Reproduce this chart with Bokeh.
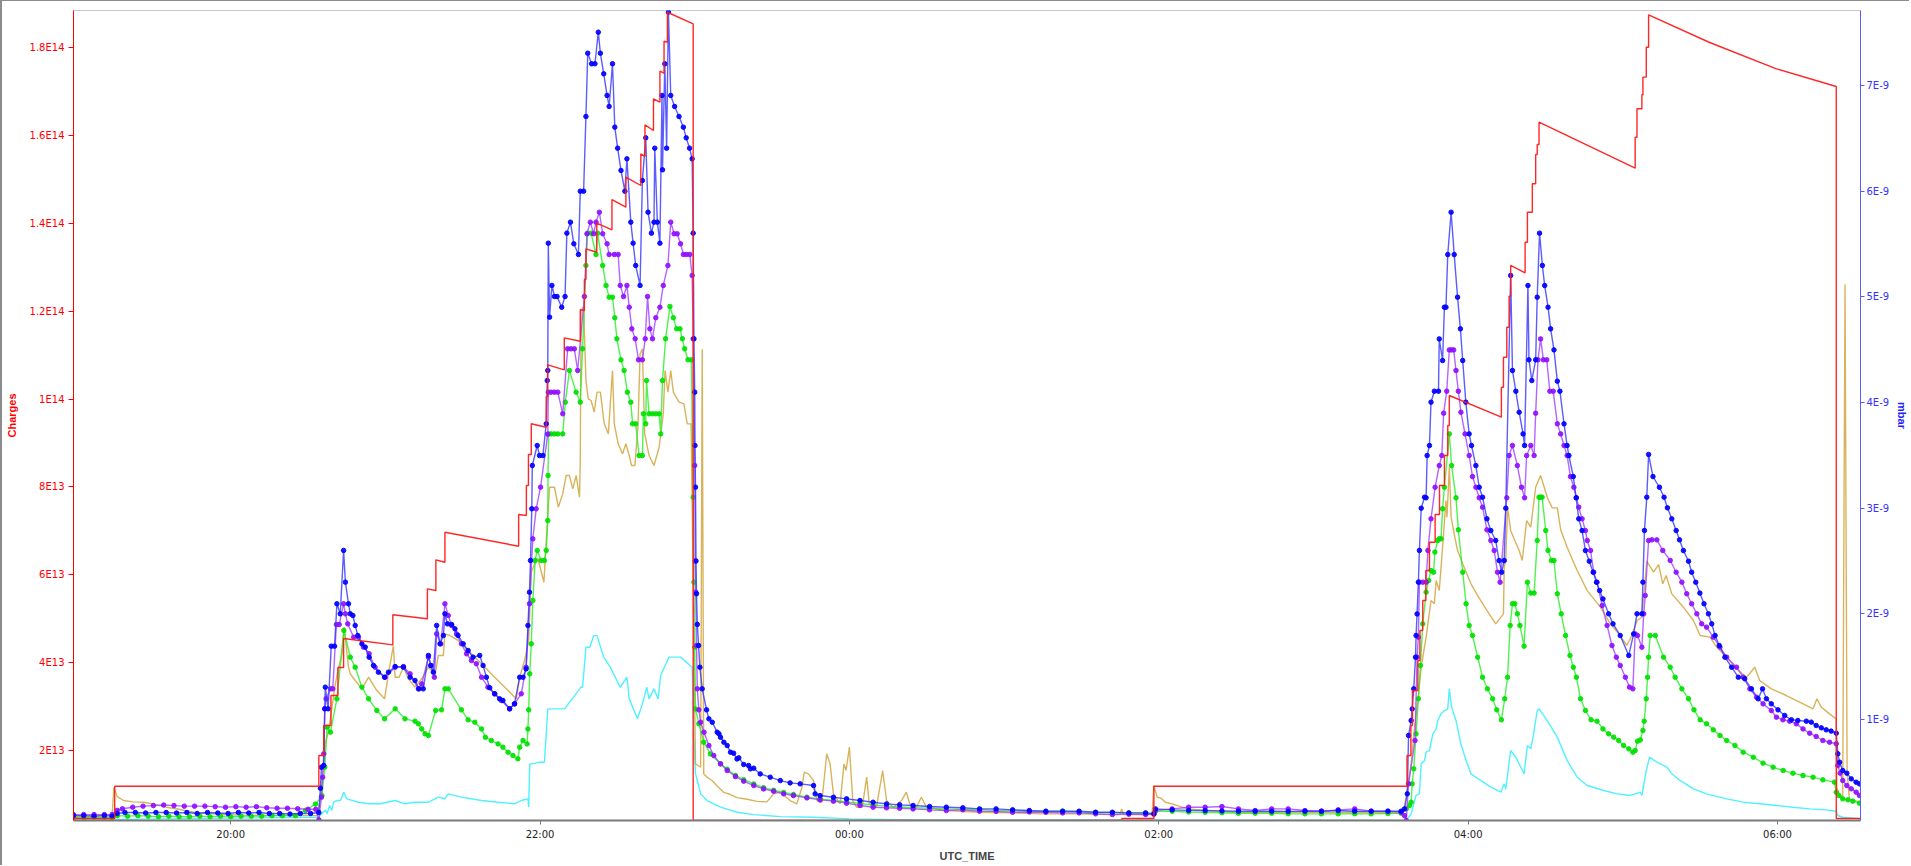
import numpy as np
from bokeh.plotting import figure
from bokeh.models import Range1d, LinearAxis, FixedTicker, CustomJSTickFormatter
from bokeh.embed import file_html
from bokeh.resources import INLINE

# x = minutes relative to 20:00 UTC
TIME_TICKS = [0, 120, 240, 360, 480, 600]
TIME_LABELS = ["20:00", "22:00", "00:00", "02:00", "04:00", "06:00"]
CHARGE_TICKS_E13 = [2, 4, 6, 8, 10, 12, 14, 16, 18]
MBAR_TICKS_E9 = [1, 2, 3, 4, 5, 6, 7]

# Charges (units of 1E13), left axis
charges_pts = [
    (-61.0, 0.455), (-45.0, 0.455), (-45.0, 1.19), (34.2, 1.19), (34.2, 1.889), (36.1, 1.889),
    (36.1, 2.571), (38.9, 2.571), (38.9, 3.254), (41.6, 3.254), (41.6, 3.891), (43.8, 3.891),
    (43.8, 4.551), (62.9, 4.407), (62.9, 5.09), (76.3, 4.999), (76.3, 5.681), (79.6, 5.643),
    (79.6, 6.341), (83.1, 6.287), (83.1, 6.969), (111.7, 6.651), (111.7, 7.372), (114.7, 7.349),
    (114.7, 8.032), (115.5, 8.032), (115.5, 8.737), (116.6, 8.737), (116.6, 9.436), (122.4, 9.358),
    (122.4, 10.057), (123.0, 10.057), (123.0, 10.778), (129.4, 10.664), (129.4, 11.392), (135.6, 11.315),
    (135.6, 12.03), (137.2, 12.014), (137.2, 12.719), (137.8, 12.719), (137.8, 13.418), (142.0, 13.34),
    (142.0, 14.0), (147.9, 13.85), (147.9, 14.539), (153.3, 14.364), (153.3, 15.047), (159.1, 14.858),
    (159.1, 15.579), (160.7, 15.518), (160.7, 16.239), (164.0, 16.109), (164.0, 16.83), (166.5, 16.753),
    (166.5, 17.459), (168.1, 17.413), (168.1, 18.141), (169.4, 18.118), (169.4, 18.8), (179.4, 18.537),
    (179.4, 0.41), (345.7, 0.41), (345.7, 0.455), (358.1, 0.455), (358.1, 1.19), (456.3, 1.19),
    (456.3, 1.889), (457.8, 1.889), (457.8, 2.571), (458.4, 2.571), (458.4, 3.367), (460.5, 3.367),
    (460.5, 4.05), (461.3, 4.05), (461.3, 4.733), (462.4, 4.733), (462.4, 5.415), (463.6, 5.415),
    (463.6, 6.098), (465.0, 6.098), (465.0, 6.742), (467.2, 6.742), (467.2, 7.372), (468.9, 7.372),
    (468.9, 8.032), (470.8, 8.032), (470.8, 8.715), (472.1, 8.715), (472.1, 9.397), (472.7, 9.397),
    (472.7, 10.08), (492.9, 9.586), (492.9, 10.269), (493.7, 10.269), (493.7, 10.951), (495.0, 10.951),
    (495.0, 11.634), (495.9, 11.634), (495.9, 12.339), (496.5, 12.339), (496.5, 13.038), (502.1, 12.872),
    (502.1, 13.567), (503.0, 13.567), (503.0, 14.25), (504.9, 14.25), (504.9, 14.897), (506.2, 14.897),
    (506.2, 15.563), (506.8, 15.563), (506.8, 15.791), (507.5, 15.791), (507.5, 16.298), (544.8, 15.252),
    (544.8, 15.957), (545.5, 15.957), (545.5, 16.603), (547.4, 16.603), (547.4, 16.922), (547.8, 16.922),
    (547.8, 17.323), (549.1, 17.323), (549.1, 18.005), (550.0, 18.005), (550.0, 18.742), (573.7, 18.112),
    (599.6, 17.513), (622.8, 17.11), (622.8, 0.455), (632.2, 0.455),
]

# Pressures (units of 1E-9 mbar), right axis
blue_pts = [
    (-61, 0.09), (-57, 0.09), (-53, 0.085), (-49, 0.09), (-46, 0.085), (-44, 0.11), (-41, 0.12),
    (-37, 0.12), (-33, 0.115), (-29, 0.12), (-25, 0.12), (-21, 0.115), (-17, 0.12), (-13, 0.11),
    (-9, 0.12), (-5, 0.115), (-1, 0.11), (3, 0.12), (7, 0.115), (11, 0.12), (15, 0.11), (19, 0.11),
    (23, 0.105), (27, 0.11), (31, 0.11), (34.2, 0.12), (34.8, 0.35), (35.2, 0.549), (36.1, 0.565),
    (36.5, 1.101), (36.7, 1.306), (37.8, 1.101), (39.0, 1.694), (40.3, 1.694), (41.2, 2.095), (42.5, 2.0),
    (43.8, 2.6), (44.5, 2.30), (45.7, 2.095), (46.4, 2.0), (47.4, 1.984), (48.3, 1.89), (49.3, 1.795),
    (50.9, 1.716), (52.2, 1.685), (53.7, 1.59), (55.4, 1.511), (57.3, 1.448), (59.7, 1.40), (61.2, 1.448),
    (63.8, 1.501), (67.0, 1.495), (69.6, 1.40), (71.5, 1.369), (73.0, 1.29), (74.7, 1.29), (76.7, 1.606),
    (77.6, 1.511), (78.6, 1.448), (79.9, 1.89), (81.2, 1.716), (82.5, 1.795), (83.1, 2.0), (84.1, 1.905),
    (85.7, 1.899), (87.0, 1.858), (88.2, 1.795), (90.2, 1.716), (92.1, 1.653), (94.0, 1.59), (96.6, 1.606),
    (97.9, 1.511), (99.2, 1.40), (100.5, 1.30), (102.4, 1.243), (104.3, 1.196), (105.6, 1.18), (108.2, 1.101),
    (110.1, 1.148), (112.1, 1.40), (113.4, 1.40), (114.6, 1.479), (115.3, 1.89), (115.9, 2.205), (116.3, 2.505),
    (116.8, 2.994), (117.0, 3.404), (118.9, 3.593), (119.8, 3.498), (121.1, 3.498), (122.4, 3.798),
    (122.8, 4.208), (123.0, 4.303), (123.2, 5.508), (123.7, 4.808), (124.6, 5.108), (125.6, 5.003),
    (126.6, 5.003), (128.4, 4.902), (129.7, 5.003), (130.4, 5.603), (131.8, 5.707), (133.1, 5.502),
    (134.9, 5.401), (135.6, 6.0), (136.9, 6.0), (137.8, 6.707), (138.5, 7.306), (140.0, 7.206),
    (141.3, 7.206), (142.6, 7.505), (143.4, 7.306), (144.7, 7.111), (146.0, 6.906), (146.8, 6.802),
    (148.1, 7.206), (149.0, 6.606), (150.1, 6.407), (151.4, 6.196), (152.9, 6.0), (153.7, 6.306),
    (155.2, 5.707), (156.1, 5.508), (157.1, 5.297), (158.8, 5.108), (159.7, 6.101), (161.0, 6.505),
    (161.9, 5.801), (163.2, 5.603), (164.2, 5.707), (164.5, 6.407), (165.5, 5.707), (166.5, 5.508),
    (167.3, 6.906), (167.5, 6.202), (168.4, 7.206), (169.1, 6.407), (169.8, 7.695), (170.7, 6.906),
    (172.2, 6.802), (173.9, 6.707), (175.6, 6.606), (176.7, 6.505), (178.0, 6.407), (179.0, 6.306),
    (179.4, 5.603), (179.7, 4.603), (180.0, 4.098), (180.1, 3.593), (180.3, 3.199), (180.5, 2.50),
    (180.7, 2.19), (181.0, 1.90), (181.5, 1.70), (182.0, 1.495), (182.9, 1.29), (184.6, 1.091),
    (185.5, 1.006), (186.8, 0.974), (188.7, 0.88), (189.4, 0.864), (190.0, 0.832), (191.3, 0.785),
    (192.6, 0.753), (193.9, 0.690), (195.1, 0.681), (196.4, 0.627), (197.1, 0.637), (199.0, 0.574),
    (200.9, 0.564), (201.6, 0.533), (202.9, 0.539), (205.4, 0.485), (209.3, 0.454), (213.2, 0.422),
    (217.0, 0.400), (220.9, 0.391), (226.1, 0.375), (226.7, 0.296), (228.6, 0.28), (233.8, 0.264),
    (238.9, 0.249), (244.1, 0.233), (249.2, 0.217), (254.4, 0.201), (259.5, 0.192), (264.7, 0.186),
    (271.1, 0.176), (277.6, 0.17), (284.0, 0.164), (290.5, 0.154), (296.9, 0.154), (303.3, 0.145),
    (309.8, 0.138), (316.2, 0.132), (322.7, 0.132), (329.1, 0.132), (335.5, 0.122), (342.0, 0.122),
    (348.4, 0.116), (354.9, 0.116), (358.1, 0.107), (358.7, 0.154), (365.2, 0.145), (371.6, 0.14),
    (378.0, 0.138), (384.5, 0.135), (390.9, 0.132), (397.4, 0.132), (403.8, 0.132), (410.2, 0.13),
    (416.7, 0.132), (423.1, 0.132), (429.6, 0.138), (436.0, 0.132), (442.4, 0.132), (448.9, 0.132),
    (454.0, 0.132), (455.3, 0.154), (456.4, 0.296), (456.9, 0.849), (457.9, 0.99), (458.3, 1.10),
    (458.9, 1.29), (459.6, 1.59), (459.8, 1.795), (460.2, 1.999), (460.7, 2.30), (461.1, 2.6),
    (461.8, 3.0), (463.1, 3.104), (463.7, 3.098), (464.1, 3.498), (465.0, 3.593), (465.6, 4.003),
    (466.9, 4.107), (468.5, 4.107), (468.8, 4.602), (470.1, 4.397), (470.8, 4.902), (471.4, 4.902),
    (472.1, 5.4), (473.4, 5.801), (474.6, 5.4), (475.9, 4.997), (477.0, 4.697), (477.9, 4.397),
    (479.1, 4.003), (480.4, 3.703), (481.3, 3.593), (483.0, 3.403), (484.3, 3.198), (485.6, 3.104),
    (487.3, 2.899), (488.8, 2.788), (490.7, 2.694), (492.0, 2.504), (493.0, 2.394), (494.0, 2.504),
    (494.6, 3.0), (496.5, 5.202), (497.2, 4.303), (498.5, 4.107), (499.8, 3.908), (501.3, 3.703),
    (501.9, 3.593), (503.2, 5.107), (503.6, 4.404), (504.7, 4.208), (506.2, 4.404), (506.8, 4.997),
    (507.7, 5.603), (508.8, 5.297), (509.7, 5.107), (511.0, 4.902), (512.0, 4.697), (513.3, 4.498),
    (514.6, 4.202), (515.6, 4.107), (517.2, 3.798), (518.4, 3.593), (519.1, 3.498), (520.8, 3.299),
    (521.9, 3.098), (522.9, 2.899), (524.2, 2.788), (525.5, 2.599), (527.0, 2.498), (528.5, 2.394),
    (529.8, 2.299), (531.0, 2.22), (532.3, 2.141), (534.5, 2.0), (536.2, 1.905), (539.0, 1.795),
    (542.3, 1.606), (544.2, 1.81), (545.5, 2.0), (547.4, 2.0), (547.8, 2.30), (548.4, 2.789),
    (549.3, 3.104), (550.0, 3.508), (551.7, 3.299), (554.2, 3.198), (556.0, 3.104), (557.3, 3.003),
    (559.0, 2.899), (560.7, 2.788), (562.0, 2.7), (563.5, 2.599), (565.5, 2.498), (566.7, 2.394),
    (568.3, 2.299), (569.9, 2.196), (571.5, 2.095), (573.2, 2.0), (574.5, 1.905), (575.8, 1.795),
    (577.4, 1.70), (579.6, 1.59), (582.2, 1.495), (584.8, 1.40), (587.3, 1.385), (589.9, 1.29),
    (592.5, 1.196), (594.2, 1.29), (595.7, 1.196), (597.6, 1.148), (600.2, 1.091), (602.8, 1.038),
    (605.4, 0.997), (607.9, 0.99), (611.2, 0.984), (613.1, 0.975), (615.0, 0.943), (617.0, 0.921),
    (618.9, 0.902), (620.8, 0.89), (622.8, 0.87), (623.4, 0.675), (624.1, 0.596), (625.3, 0.517),
    (626.9, 0.492), (628.6, 0.438), (630.5, 0.407), (631.8, 0.391),
]

purple_pts = [
    (-61, 0.10), (-57, 0.10), (-53, 0.10), (-49, 0.10), (-46, 0.10), (-44, 0.14), (-42, 0.155),
    (-38, 0.17), (-34, 0.18), (-30, 0.185), (-26, 0.19), (-22, 0.185), (-18, 0.18), (-14, 0.18),
    (-10, 0.18), (-6, 0.175), (-2, 0.17), (2, 0.175), (6, 0.17), (10, 0.175), (14, 0.165), (18, 0.16),
    (22, 0.16), (26, 0.155), (30, 0.15), (33, 0.15), (34.2, 0.05), (35.2, 0.265), (35.7, 0.454),
    (36.1, 0.675), (36.5, 1.101), (37.0, 1.196), (38.7, 1.29), (39.6, 1.29), (41.0, 1.899), (42.1, 1.899),
    (43.8, 2.095), (44.5, 2.0), (45.4, 1.905), (47.7, 1.779), (49.6, 1.779), (51.5, 1.685), (53.7, 1.622),
    (56.0, 1.495), (59.9, 1.40), (63.8, 1.495), (67.0, 1.501), (69.6, 1.432), (72.8, 1.29), (74.1, 1.337),
    (76.7, 1.59), (77.7, 1.511), (79.0, 1.40), (79.9, 1.81), (81.5, 1.716), (83.1, 2.095), (84.4, 1.984),
    (85.7, 1.89), (87.6, 1.81), (89.5, 1.716), (91.5, 1.622), (93.4, 1.558), (95.3, 1.527), (97.3, 1.40),
    (99.8, 1.306), (102.4, 1.243), (105.0, 1.18), (108.2, 1.101), (110.1, 1.148), (112.7, 1.243),
    (114.6, 1.495), (115.9, 2.095), (117.2, 2.71), (118.5, 2.994), (120.2, 3.199), (123.0, 3.70),
    (123.2, 4.098), (124.3, 4.098), (125.6, 4.098), (126.9, 4.098), (128.8, 3.893), (130.7, 4.508),
    (132.0, 4.508), (133.3, 4.508), (134.6, 4.303), (137.2, 5.003), (138.2, 5.597), (139.5, 5.707),
    (140.8, 5.597), (141.7, 5.707), (143.0, 5.801), (144.3, 5.597), (146.0, 5.502), (146.8, 5.401),
    (148.8, 5.401), (150.3, 5.401), (151.1, 5.108), (152.4, 5.003), (153.7, 5.108), (154.6, 4.902),
    (155.6, 4.697), (156.9, 4.603), (158.2, 4.404), (159.7, 4.404), (160.8, 4.603), (161.7, 5.003),
    (162.6, 4.697), (163.6, 4.603), (164.9, 4.802), (166.5, 4.902), (167.8, 5.108), (169.6, 5.297),
    (170.7, 5.707), (172.0, 5.597), (173.2, 5.597), (174.5, 5.502), (175.6, 5.401), (176.8, 5.401),
    (178.1, 5.401), (179.0, 5.202), (179.4, 4.603), (180.0, 3.404), (180.2, 2.50), (180.4, 2.205),
    (180.7, 1.70), (181.0, 1.29), (181.6, 1.091), (182.3, 0.974), (183.6, 0.88), (185.5, 0.753),
    (187.4, 0.659), (190.0, 0.58), (192.6, 0.517), (195.8, 0.46), (199.0, 0.416), (202.9, 0.375),
    (206.7, 0.343), (210.6, 0.321), (214.5, 0.296), (218.3, 0.28), (223.5, 0.258), (228.6, 0.239),
    (233.8, 0.227), (238.9, 0.208), (244.1, 0.186), (249.2, 0.17), (254.4, 0.164), (259.5, 0.16),
    (264.7, 0.154), (271.1, 0.145), (277.6, 0.138), (284.0, 0.145), (290.5, 0.132), (296.9, 0.13),
    (303.3, 0.122), (309.8, 0.125), (316.2, 0.122), (322.7, 0.116), (329.1, 0.116), (335.5, 0.107),
    (342.0, 0.10), (348.4, 0.104), (354.9, 0.10), (358.1, 0.104), (358.7, 0.138), (365.2, 0.154),
    (371.6, 0.17), (378.0, 0.17), (384.5, 0.176), (390.9, 0.154), (397.4, 0.138), (403.8, 0.154),
    (410.2, 0.154), (416.7, 0.138), (423.1, 0.132), (429.6, 0.145), (436.0, 0.154), (442.4, 0.132),
    (448.9, 0.132), (454.0, 0.122), (455.3, 0.091), (456.0, 0.044), (456.9, 0.391), (459.4, 0.801),
    (460.2, 1.59), (460.7, 1.779), (461.1, 2.30), (462.4, 2.30), (463.7, 2.30), (464.4, 2.6),
    (465.6, 2.899), (467.2, 3.198), (468.8, 3.403), (469.8, 3.498), (470.5, 3.899), (471.7, 4.107),
    (472.7, 4.498), (473.5, 4.498), (474.4, 4.498), (475.3, 4.303), (476.2, 4.107), (477.2, 3.908),
    (478.8, 3.703), (480.4, 3.498), (481.7, 3.299), (483.0, 3.198), (484.3, 3.098), (485.6, 3.009),
    (487.3, 2.795), (488.8, 2.694), (490.1, 2.599), (491.4, 2.394), (492.4, 2.299), (495.0, 3.098),
    (495.9, 3.498), (497.2, 3.593), (499.1, 3.403), (500.7, 3.198), (501.9, 3.098), (502.7, 3.498),
    (504.3, 3.593), (505.6, 3.498), (506.2, 3.899), (507.1, 4.404), (508.1, 4.602), (509.2, 4.404),
    (510.5, 4.404), (511.7, 4.107), (513.0, 4.107), (514.6, 3.798), (515.9, 3.703), (517.2, 3.593),
    (518.4, 3.498), (519.7, 3.299), (521.0, 3.198), (522.0, 3.098), (522.9, 3.009), (524.2, 2.899),
    (525.5, 2.788), (526.2, 2.694), (527.5, 2.599), (528.7, 2.394), (530.0, 2.299), (532.0, 2.079),
    (533.9, 1.89), (535.8, 1.70), (537.5, 1.59), (539.0, 1.511), (541.0, 1.40), (542.6, 1.306),
    (543.9, 1.29), (544.8, 1.81), (545.7, 1.795), (547.4, 1.684), (548.1, 2.0), (548.7, 2.173),
    (550.0, 2.694), (551.3, 2.70), (553.2, 2.70), (555.5, 2.6), (558.4, 2.505), (560.7, 2.394),
    (562.9, 2.30), (564.8, 2.19), (566.7, 2.095), (568.7, 2.0), (570.6, 1.905), (572.5, 1.874),
    (575.1, 1.779), (577.7, 1.685), (580.3, 1.59), (584.1, 1.495), (586.7, 1.40), (589.3, 1.29),
    (591.9, 1.211), (594.4, 1.148), (597.6, 1.085), (599.6, 1.022), (602.1, 0.997), (604.7, 0.984),
    (607.3, 0.959), (609.9, 0.911), (612.5, 0.87), (615.0, 0.839), (617.6, 0.801), (620.2, 0.785),
    (622.8, 0.77), (623.4, 0.565), (624.3, 0.492), (625.3, 0.422), (626.9, 0.375), (628.6, 0.344),
    (630.5, 0.312), (631.8, 0.281),
]

green_pts = [
    (-61, 0.07), (-57, 0.07), (-53, 0.075), (-49, 0.07), (-46, 0.07), (-44, 0.09), (-40, 0.085),
    (-36, 0.09), (-32, 0.085), (-28, 0.08), (-24, 0.085), (-20, 0.08), (-16, 0.08), (-12, 0.085),
    (-8, 0.08), (-4, 0.085), (0, 0.08), (4, 0.085), (8, 0.085), (12, 0.085), (16, 0.09), (20, 0.09),
    (25.1, 0.09), (29, 0.14), (32.9, 0.199), (35.4, 0.28), (36.5, 0.549), (37.4, 0.927), (38.7, 0.88),
    (41.2, 1.196), (43.9, 1.842), (46.4, 1.59), (48.3, 1.495), (50.9, 1.306), (53.5, 1.196), (56.7, 1.085),
    (59.7, 1.006), (63.8, 1.101), (67.6, 1.006), (71.5, 0.984), (72.8, 0.959), (74.1, 0.911), (75.4, 0.864),
    (76.7, 0.848), (79.5, 1.085), (81.8, 1.091), (83.1, 1.29), (84.4, 1.29), (89.5, 1.091), (92.1, 0.997),
    (94.7, 0.974), (97.3, 0.911), (98.8, 0.832), (101.1, 0.801), (103.7, 0.769), (105.6, 0.738),
    (107.6, 0.69), (109.5, 0.659), (111.4, 0.628), (112.1, 0.738), (113.4, 0.801), (115.0, 0.769),
    (115.3, 0.911), (115.6, 1.091), (116.0, 1.432), (116.6, 1.716), (117.2, 2.126), (118.1, 2.505),
    (118.9, 2.6), (120.4, 2.505), (121.7, 2.505), (122.4, 2.6), (123.0, 2.883), (123.1, 3.309),
    (123.3, 3.703), (124.3, 3.703), (125.6, 3.703), (126.9, 3.703), (128.8, 3.703), (129.8, 4.003),
    (131.4, 4.303), (134.0, 4.098), (135.6, 4.003), (136.5, 4.508), (137.8, 5.297), (138.5, 5.603),
    (139.8, 5.603), (141.7, 5.401), (142.3, 5.603), (144.3, 5.297), (145.6, 5.108), (146.8, 4.997),
    (148.1, 4.997), (149.0, 4.802), (149.8, 4.603), (151.4, 4.404), (152.6, 4.303), (153.9, 4.098),
    (155.2, 4.003), (155.9, 3.798), (157.1, 3.798), (158.4, 3.498), (159.7, 3.498), (160.1, 3.893),
    (161.0, 3.798), (161.3, 4.208), (162.3, 3.893), (163.6, 3.893), (164.9, 3.893), (166.2, 3.893),
    (166.8, 3.703), (167.5, 4.208), (168.7, 4.603), (170.4, 4.909), (171.7, 4.802), (173.0, 4.697),
    (174.3, 4.697), (175.2, 4.603), (176.1, 4.508), (177.4, 4.404), (178.7, 4.404), (179.4, 3.104),
    (179.7, 2.3), (180.0, 1.684), (180.3, 1.10), (181.6, 0.96), (183.5, 0.785), (186.1, 0.674),
    (190.0, 0.58), (192.6, 0.53), (195.8, 0.47), (199.0, 0.43), (202.9, 0.39), (206.7, 0.355),
    (210.6, 0.33), (214.5, 0.31), (218.3, 0.29), (223.5, 0.265), (228.6, 0.248), (233.8, 0.233),
    (238.9, 0.22), (244.1, 0.205), (249.2, 0.19), (254.4, 0.18), (259.5, 0.172), (264.7, 0.165),
    (271.1, 0.16), (277.6, 0.154), (284.0, 0.15), (290.5, 0.148), (296.9, 0.14), (303.3, 0.138),
    (309.8, 0.132), (316.2, 0.13), (322.7, 0.132), (329.1, 0.125), (335.5, 0.12), (342.0, 0.118),
    (348.4, 0.116), (354.9, 0.113), (358.1, 0.11), (358.7, 0.132), (365.2, 0.132), (371.6, 0.125),
    (378.0, 0.122), (384.5, 0.118), (390.9, 0.113), (397.4, 0.113), (403.8, 0.113), (410.2, 0.108),
    (416.7, 0.107), (423.1, 0.107), (429.6, 0.107), (436.0, 0.108), (442.4, 0.107), (448.9, 0.11),
    (454.0, 0.113), (456.0, 0.154), (457.3, 0.186), (457.9, 0.217), (458.3, 0.391), (458.9, 0.533),
    (459.8, 0.864), (460.7, 1.196), (461.5, 1.511), (462.4, 1.905), (463.7, 2.205), (464.7, 2.315),
    (465.6, 2.41), (466.6, 2.394), (467.1, 2.584), (468.2, 2.694), (468.8, 2.71), (469.5, 2.71),
    (470.1, 2.994), (470.8, 3.198), (472.7, 3.703), (473.6, 3.403), (475.3, 3.098), (476.2, 2.795),
    (477.9, 2.394), (479.2, 2.095), (480.4, 1.89), (481.7, 1.795), (483.7, 1.59), (485.6, 1.40),
    (487.5, 1.29), (489.5, 1.196), (491.1, 1.091), (492.9, 0.997), (494.2, 1.196), (495.3, 1.40),
    (496.3, 1.89), (497.2, 2.095), (498.1, 2.095), (499.1, 2.0), (500.1, 1.89), (501.7, 1.694),
    (503.0, 2.30), (504.3, 2.196), (505.6, 2.196), (506.8, 2.694), (507.5, 3.104), (508.1, 3.104),
    (508.7, 3.104), (510.1, 2.789), (511.0, 2.6), (512.3, 2.505), (513.3, 2.505), (514.6, 2.19),
    (516.1, 2.0), (517.8, 1.795), (519.5, 1.606), (520.8, 1.495), (522.0, 1.40), (523.6, 1.196),
    (525.5, 1.085), (527.7, 0.997), (530.0, 0.984), (532.3, 0.911), (534.5, 0.864), (536.5, 0.833),
    (538.4, 0.801), (540.3, 0.754), (542.3, 0.722), (543.9, 0.691), (544.8, 0.706), (545.7, 0.795),
    (546.8, 0.807), (547.8, 0.896), (548.3, 0.984), (549.1, 1.196), (549.6, 1.40), (550.0, 1.59),
    (550.6, 1.795), (552.6, 1.795), (555.8, 1.59), (558.4, 1.495), (560.3, 1.40), (562.9, 1.29),
    (565.5, 1.196), (567.6, 1.091), (570.0, 0.997), (572.5, 0.959), (575.1, 0.902), (577.7, 0.848),
    (580.3, 0.801), (583.5, 0.754), (586.7, 0.691), (590.6, 0.643), (594.4, 0.587), (598.3, 0.549),
    (602.2, 0.517), (606.0, 0.492), (609.9, 0.47), (613.8, 0.454), (617.6, 0.429), (622.1, 0.407),
    (622.8, 0.312), (623.8, 0.281), (625.3, 0.249), (627.3, 0.24), (629.2, 0.227), (631.8, 0.208),
]

gold_pts = [
    (-61, 0.08), (-55, 0.085), (-50, 0.09), (-46, 0.09), (-45.3, 0.359), (-44, 0.27), (-41.6, 0.233),
    (-38, 0.22), (-33.9, 0.217), (-30, 0.2), (-25, 0.17), (-20, 0.15), (-14.4, 0.122), (-8, 0.11),
    (-2, 0.10), (5, 0.095), (12, 0.092), (20, 0.091), (27, 0.09), (33.5, 0.09), (34.8, 0.249),
    (36.7, 0.77), (38.0, 0.896), (39.3, 1.117), (40.6, 1.337), (41.9, 1.495), (43.2, 1.622), (44.0, 1.874),
    (45.7, 1.495), (46.4, 1.432), (48.3, 1.369), (50.9, 1.29), (53.5, 1.40), (56.7, 1.274), (59.7, 1.196),
    (61.2, 1.432), (63.1, 1.70), (63.8, 1.40), (65.3, 1.40), (67.0, 1.495), (68.9, 1.385), (71.5, 1.306),
    (74.1, 1.385), (76.7, 1.495), (78.6, 1.448), (79.2, 1.40), (80.5, 1.606), (82.5, 1.606), (83.1, 1.81),
    (85.0, 1.795), (88.2, 1.748), (92.1, 1.653), (97.3, 1.527), (102.4, 1.40), (107.6, 1.274),
    (110.8, 1.196), (112.1, 1.40), (114.0, 1.558), (115.6, 1.748), (116.6, 2.394), (118.5, 2.504),
    (119.2, 2.521), (121.5, 2.299), (122.8, 2.851), (123.7, 3.198), (125.6, 3.198), (127.1, 3.009),
    (128.8, 3.135), (130.1, 3.309), (131.4, 3.309), (132.7, 3.183), (134.0, 3.309), (135.3, 3.104),
    (135.6, 3.419), (135.9, 4.871), (136.9, 4.902), (137.8, 4.208), (138.7, 4.035), (139.8, 4.019),
    (141.0, 3.909), (142.1, 4.098), (143.4, 4.098), (144.9, 3.798), (146.5, 3.703), (148.1, 4.303),
    (148.8, 3.798), (150.3, 3.609), (152.0, 3.514), (153.3, 3.609), (154.6, 3.498), (155.5, 3.404),
    (156.8, 3.404), (158.0, 3.782), (158.8, 4.461), (159.7, 4.508), (160.6, 3.703), (162.3, 3.498),
    (164.2, 3.404), (166.2, 3.577), (167.8, 3.893), (168.5, 4.303), (169.6, 4.098), (170.7, 4.303),
    (171.7, 4.098), (173.9, 4.003), (175.8, 3.987), (177.1, 3.798), (178.6, 3.798), (180.3, 0.58),
    (182.3, 0.548), (182.9, 4.506), (183.5, 0.485), (184.8, 0.454), (186.8, 0.42), (188.7, 0.37),
    (191.3, 0.31), (193.9, 0.29), (196.4, 0.26), (200.3, 0.245), (204.2, 0.225), (208.0, 0.22),
    (210.6, 0.296), (213.2, 0.312), (217.0, 0.233), (219.6, 0.201), (221.6, 0.359), (222.5, 0.501),
    (224.1, 0.485), (226.1, 0.422), (227.4, 0.233), (229.3, 0.217), (231.2, 0.675), (232.5, 0.58),
    (233.8, 0.296), (236.4, 0.201), (237.9, 0.58), (238.7, 0.517), (240.0, 0.738), (241.3, 0.233),
    (242.8, 0.17), (245.0, 0.17), (246.7, 0.454), (247.7, 0.201), (250.5, 0.17), (252.9, 0.517),
    (254.4, 0.233), (257.0, 0.17), (260.2, 0.233), (262.1, 0.312), (263.4, 0.201), (266.0, 0.17),
    (267.9, 0.264), (269.9, 0.17), (277.6, 0.138), (290.5, 0.122), (303.3, 0.116), (316.2, 0.107),
    (329.1, 0.107), (342.0, 0.10), (345.0, 0.10), (345.6, 0.154), (346.3, 0.10), (357.4, 0.1),
    (358.1, 0.375), (359.4, 0.264), (360.7, 0.258), (362.6, 0.217), (365.2, 0.201), (369.0, 0.17),
    (371.6, 0.154), (378.0, 0.138), (390.9, 0.122), (403.8, 0.122), (416.7, 0.122), (429.6, 0.122),
    (442.4, 0.122), (452.7, 0.113), (455.3, 0.17), (457.9, 0.58), (459.2, 0.927), (460.5, 1.18),
    (461.8, 1.495), (463.7, 1.779), (465.6, 2.126), (466.9, 2.095), (467.6, 2.316), (468.8, 2.221),
    (470.1, 2.631), (471.4, 3.073), (471.8, 2.915), (472.7, 3.388), (473.4, 2.915), (474.6, 2.757),
    (475.9, 2.599), (477.9, 2.473), (481.1, 2.284), (483.7, 2.173), (486.9, 2.047), (490.7, 1.905),
    (493.7, 2.0), (494.0, 2.442), (494.6, 2.505), (495.3, 3.01), (496.5, 2.789), (498.1, 2.694),
    (499.8, 2.6), (501.0, 2.505), (502.7, 2.883), (504.3, 2.82), (506.2, 3.198), (508.1, 3.309),
    (510.7, 3.104), (512.6, 3.003), (514.6, 3.003), (515.9, 2.795), (518.4, 2.63), (522.3, 2.41),
    (526.2, 2.22), (531.3, 2.063), (535.2, 1.905), (538.4, 1.81), (541.6, 1.70), (543.5, 1.795),
    (545.5, 1.937), (547.4, 1.968), (549.3, 2.498), (551.9, 2.394), (553.9, 2.466), (555.5, 2.284),
    (556.8, 2.362), (559.0, 2.189), (563.5, 2.063), (567.4, 1.937), (570.0, 1.795), (573.8, 1.779),
    (576.4, 1.685), (580.3, 1.59), (584.1, 1.48), (588.0, 1.40), (591.2, 1.495), (593.1, 1.369),
    (597.6, 1.29), (603.4, 1.227), (608.6, 1.164), (613.8, 1.101), (615.3, 1.196), (617.0, 1.117),
    (620.2, 1.053), (622.8, 1.006), (623.0, 0.36), (624.1, 0.281), (625.3, 0.265), (626.2, 5.12),
    (627.0, 0.5), (627.9, 0.249), (631.8, 0.218),
]

cyan_pts = [
    (-61, 0.05), (34.1, 0.075), (35.2, 0.107), (36.7, 0.139), (37.4, 0.11), (38.4, 0.186), (39.2, 0.14),
    (39.9, 0.217), (41.2, 0.233), (42.5, 0.233), (43.2, 0.265), (43.8, 0.312), (45.1, 0.249), (49.6, 0.217),
    (53.5, 0.202), (58.0, 0.202), (63.8, 0.233), (67.6, 0.202), (71.5, 0.217), (76.7, 0.217), (80.5, 0.265),
    (83.0, 0.25), (84.4, 0.296), (89.5, 0.265), (97.3, 0.233), (103.7, 0.217), (110.1, 0.202), (112.7, 0.233),
    (115.3, 0.249), (115.6, 0.17), (116.0, 0.58), (117.2, 0.58), (119.8, 0.596), (121.7, 0.595), (123.0, 1.10),
    (129.5, 1.10), (135.9, 1.306), (136.5, 1.305), (137.8, 1.684), (139.3, 1.684), (140.8, 1.794),
    (142.1, 1.794), (144.7, 1.59), (147.2, 1.495), (151.1, 1.305), (153.7, 1.40), (154.6, 1.195),
    (157.8, 1.006), (159.7, 1.148), (161.4, 1.305), (162.3, 1.195), (164.2, 1.29), (165.8, 1.195),
    (166.8, 1.416), (170.0, 1.59), (174.5, 1.59), (179.0, 1.495), (179.7, 0.80), (180.3, 0.486),
    (182.3, 0.296), (184.8, 0.233), (190.0, 0.17), (196.4, 0.122), (202.9, 0.10), (213.2, 0.081),
    (226.1, 0.075), (240.2, 0.059), (264.7, 0.05), (456.0, 0.044), (457.9, 0.107), (459.8, 0.281),
    (461.1, 0.296), (461.8, 0.58), (463.1, 0.612), (463.7, 0.691), (465.0, 0.706), (466.3, 0.864),
    (467.6, 0.911), (468.2, 0.99), (469.5, 1.053), (470.8, 1.085), (472.1, 1.101), (472.7, 1.29),
    (473.6, 1.117), (475.3, 0.99), (477.2, 0.77), (479.2, 0.612), (481.1, 0.486), (484.9, 0.423),
    (488.8, 0.36), (492.7, 0.312), (494.0, 0.391), (494.6, 0.344), (496.5, 0.706), (498.5, 0.643),
    (501.7, 0.486), (503.0, 0.754), (504.3, 0.722), (505.3, 0.848), (506.8, 1.085), (507.5, 1.101),
    (510.7, 0.99), (514.6, 0.833), (518.4, 0.612), (522.3, 0.454), (526.2, 0.375), (532.6, 0.328),
    (537.8, 0.296), (542.9, 0.281), (546.8, 0.312), (547.4, 0.281), (549.1, 0.517), (550.4, 0.643),
    (553.2, 0.596), (557.1, 0.549), (559.0, 0.486), (562.2, 0.423), (567.4, 0.344), (572.5, 0.296),
    (580.3, 0.249), (586.7, 0.218), (593.1, 0.202), (599.6, 0.186), (606.0, 0.17), (612.5, 0.154),
    (618.9, 0.145), (622.8, 0.132), (623.4, 0.091), (625.3, 0.075), (631.8, 0.06),
]


def unzip(pts, scale):
    a = np.array(pts, dtype=float)
    return a[:, 0], a[:, 1] * scale


p = figure(width=1909, height=865, output_backend="svg", toolbar_location=None,
           x_range=Range1d(-60.97, 632.2), y_range=Range1d(4.1e12, 1.884e14),
           min_border_left=68, min_border_right=46, min_border_top=9, min_border_bottom=46,
           x_axis_location=None, y_axis_location=None,
           background_fill_color="white", border_fill_color="white",
           styles={"border-left": "2px solid #8c8c8c", "border-top": "1px solid #8c8c8c"})
p.xgrid.visible = False
p.ygrid.visible = False
p.outline_line_color = "#c8c8c8"
p.outline_line_width = 1
p.extra_y_ranges = {"mbar": Range1d(0.044e-9, 7.71e-9)}

sci = CustomJSTickFormatter(code="""
const e = Math.floor(Math.log10(Math.abs(tick)) + 1e-6);
const m = Math.round(tick / Math.pow(10, e) * 10) / 10;
return m + "E" + e;
""")

TICK_FONT = "DejaVu Sans"
TITLE_FONT = "Liberation Sans"

yl = LinearAxis(ticker=FixedTicker(ticks=[v * 1e13 for v in CHARGE_TICKS_E13]), formatter=sci,
                axis_label="Charges")
yl.axis_line_color = "#ff0000"
yl.major_tick_line_color = "#ff0000"
yl.minor_tick_line_color = None
yl.major_tick_out = 5
yl.major_tick_in = 0
yl.major_label_text_color = "#ff0000"
yl.major_label_text_font = TICK_FONT
yl.major_label_text_font_size = "10px"
yl.major_label_standoff = 4
yl.axis_label_text_color = "#ff0000"
yl.axis_label_text_font = TITLE_FONT
yl.axis_label_text_font_style = "bold"
yl.axis_label_text_font_size = "11px"
yl.axis_label_standoff = 9
p.add_layout(yl, "left")

yr = LinearAxis(y_range_name="mbar", ticker=FixedTicker(ticks=[v * 1e-9 for v in MBAR_TICKS_E9]),
                formatter=sci, axis_label="mbar")
yr.axis_line_color = "#5a5aff"
yr.major_tick_line_color = "#5a5aff"
yr.minor_tick_line_color = None
yr.major_tick_out = 4
yr.major_tick_in = 0
yr.major_label_text_color = "#3333ff"
yr.major_label_text_font = TICK_FONT
yr.major_label_text_font_size = "10px"
yr.major_label_standoff = 2
yr.axis_label_text_color = "#2222ff"
yr.axis_label_text_font = TITLE_FONT
yr.axis_label_text_font_style = "bold"
yr.axis_label_text_font_size = "11px"
yr.axis_label_standoff = 4
p.add_layout(yr, "right")

xb = LinearAxis(ticker=FixedTicker(ticks=TIME_TICKS),
                major_label_overrides=dict(zip(TIME_TICKS, TIME_LABELS)), axis_label="UTC_TIME")
xb.axis_line_color = "#7a7a7a"
xb.axis_line_width = 2
xb.major_tick_line_color = "#7a7a7a"
xb.minor_tick_line_color = None
xb.major_tick_out = 4
xb.major_tick_in = 0
xb.major_label_text_color = "#222222"
xb.major_label_text_font = TICK_FONT
xb.major_label_text_font_size = "10px"
xb.major_label_standoff = 4
xb.axis_label_text_font = TITLE_FONT
xb.axis_label_text_font_style = "bold"
xb.axis_label_text_font_size = "11px"
xb.axis_label_standoff = 7
p.add_layout(xb, "below")

# pressure gauges (right axis)
series = [
    (cyan_pts, "#22eeff", None),
    (gold_pts, "#cfa032", None),
    (green_pts, "#22f022", "#00e000"),
    (purple_pts, "#a040ff", "#9010ff"),
    (blue_pts, "#3333ff", "#0000ff"),
]
for pts, lc, mc in series:
    x, y = unzip(pts, 1e-9)
    p.line(x, y, y_range_name="mbar", line_color=lc, line_width=1.4, line_alpha=0.8)
    if mc is not None:
        p.scatter(x, y, y_range_name="mbar", marker="circle", size=4.5,
                  fill_color=mc, line_color=mc, line_alpha=0.9, fill_alpha=0.9)

cx, cy = unzip(charges_pts, 1e13)
p.line(cx, cy, line_color="#ff1a1a", line_width=1.4, line_alpha=0.95)

open("out.html", "w").write(file_html(p, INLINE))
